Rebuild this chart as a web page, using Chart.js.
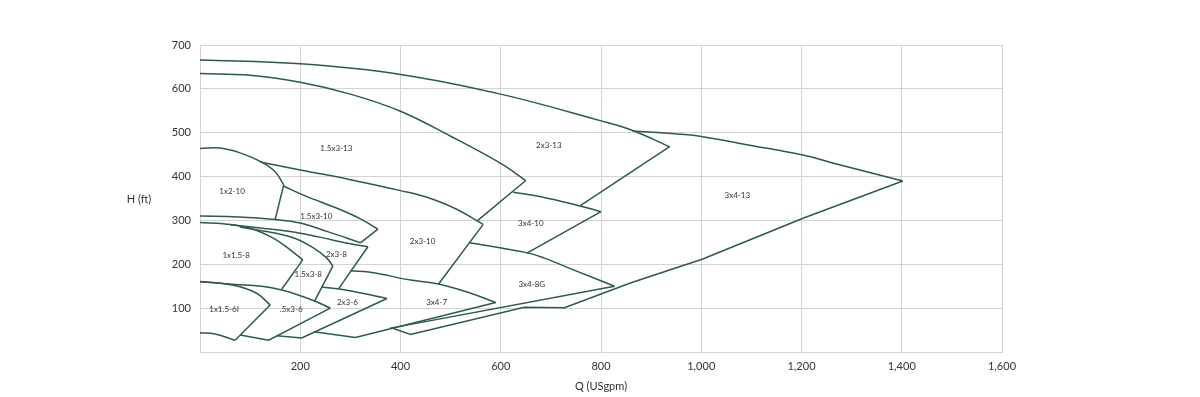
<!DOCTYPE html>
<html>
<head>
<meta charset="utf-8">
<script src="https://cdn.jsdelivr.net/npm/chart.js@4.4.1/dist/chart.umd.min.js"></script>
<style>
  html, body { margin: 0; padding: 0; background: #fff; }
  #wrap { width: 1200px; height: 397px; position: relative; }
</style>
</head>
<body>
<div id="wrap"><canvas id="pumpChart"></canvas></div>
<script>
// Pump selection map - Q (USgpm) vs H (ft)
const xTicks = [0, 200, 400, 600, 800, 1000, 1200, 1400, 1600];
const yTicks = [0, 100, 200, 300, 400, 500, 600, 700];

// max / min impeller curves, [Q, H]
const top2x3_13 = [[0,666],[200,657],[400,633],[600,588],[800,527],[863,505],[937,468]];
const top15x3_13 = [[0,635],[100,631],[200,615],[300,588],[400,549],[500,492],[600,430],[650,391]];
const top3x4_13 = [[863,504],[953,497],[1003,491],[1100,471],[1203,449],[1266,430],[1402,390]];
const top2x3_10 = [[120,433],[200,415],[300,393],[400,368],[460,350],[513,325],[553,299],[565,291]];
const top1x2_10 = [[0,464],[40,465],[80,454],[123,433],[150,411],[167,381]];
const top15x3_10 = [[167,378],[210,356],[277,326],[323,302],[355,280]];
const bot1x2_10 = [[0,310],[77,308],[150,302],[200,294],[253,275],[320,249]];
const top3x4_10 = [[625,364],[680,354],[758,333],[800,320]];
const top1x15_8 = [[0,295],[50,292],[100,282],[147,259],[180,233],[205,210]];
const top15x3_8 = [[80,285],[180,263],[227,237],[253,214],[265,196]];
const top2x3_8 = [[60,290],[120,283],[200,271],[266,255],[300,247],[335,240]];
const top3x4_8G = [[538,249],[653,226],[687,214],[750,185],[827,150]];
const top3x4_7 = [[300,185],[340,182],[420,164],[476,155],[540,134],[590,113]];
const top2x3_6 = [[242,148],[293,141],[373,122]];
const top15x3_6 = [[0,160],[57,155],[150,145],[227,117],[260,100]];
const top1x15_6I = [[0,161],[67,152],[113,134],[140,107]];
const bot1x15_6I = [[0,44],[30,41],[70,27]];

// straight end-of-curve edges
const edge2x3_13 = [[937,468],[758,333]];
const edge15x3_13 = [[650,391],[553,299]];
const edge1x2_10 = [[167,381],[150,302]];
const edge15x3_10 = [[355,280],[320,249]];
const edge3x4_10 = [[800,320],[653,226]];
const edge2x3_10 = [[565,291],[476,155]];
const edge1x15_8 = [[205,210],[163,143]];
const edge15x3_8 = [[265,196],[228,115]];
const edge2x3_8 = [[335,240],[277,145]];
const edge2x3_6 = [[373,122],[203,32],[153,37]];
const edge15x3_6 = [[260,100],[137,27],[80,39]];
const edge1x15_6I = [[140,107],[70,27]];
const edge3x4_7 = [[590,113],[310,33],[227,46]];
const edge3x4_8G = [[827,150],[383,55],[420,40],[647,102],[727,101],[860,158],[1003,212],[1203,305],[1402,390]];

const modelNames = ['1.5x3-13','2x3-13','3x4-13','1x2-10','1.5x3-10','2x3-10','3x4-10','1x1.5-8','2x3-8','1.5x3-8','3x4-8G','3x4-7','2x3-6','.5x3-6','1x1.5-6I'];
const labelQ = [272, 696, 1072, 64, 232, 444, 660, 72, 272, 216, 662, 472, 294, 182, 48];
const labelH = [465, 472, 356, 365, 310, 251, 294, 221, 223, 176, 155, 112, 112, 96, 96];

const lineColor = '#2d5a4b';
const curves = [top2x3_13, top15x3_13, top3x4_13, top2x3_10, top1x2_10, top15x3_10, bot1x2_10,
  top3x4_10, top1x15_8, top15x3_8, top2x3_8, top3x4_8G, top3x4_7, top2x3_6, top15x3_6, top1x15_6I, bot1x15_6I];
const edges = [edge2x3_13, edge15x3_13, edge1x2_10, edge15x3_10, edge3x4_10, edge2x3_10, edge1x15_8,
  edge15x3_8, edge2x3_8, edge2x3_6, edge15x3_6, edge1x15_6I, edge3x4_7, edge3x4_8G];

function toPts(arr) { return arr.map(p => ({ x: p[0], y: p[1] })); }

const datasets = [];
curves.forEach(c => datasets.push({
  data: toPts(c), showLine: true, borderColor: lineColor, borderWidth: 1.5,
  pointRadius: 0, tension: 0.4, fill: false
}));
edges.forEach(e => datasets.push({
  data: toPts(e), showLine: true, borderColor: lineColor, borderWidth: 1.5,
  pointRadius: 0, tension: 0, fill: false
}));

const fontFam = 'Lato, "Noto Sans", sans-serif';

const textPlugin = {
  id: 'pumpText',
  afterDatasetsDraw(chart) {
    const { ctx, scales } = chart;
    ctx.save();
    ctx.fillStyle = '#333';
    ctx.font = '8px ' + fontFam;
    ctx.textAlign = 'center';
    ctx.textBaseline = 'middle';
    modelNames.forEach((n, i) => {
      ctx.fillText(n, scales.x.getPixelForValue(labelQ[i]), scales.y.getPixelForValue(labelH[i]));
    });
    ctx.font = '11px ' + fontFam;
    ctx.fillText('H (ft)', 139, 199);
    ctx.fillText('Q (USgpm)', (chart.chartArea.left + chart.chartArea.right) / 2, 386);
    ctx.restore();
  }
};

Chart.defaults.animation = false;
Chart.defaults.devicePixelRatio = 1;

new Chart(document.getElementById('pumpChart').getContext('2d'), {
  type: 'scatter',
  data: { datasets },
  options: {
    responsive: true,
    maintainAspectRatio: false,
    animation: false,
    layout: { padding: { left: 150, right: 198, top: 45, bottom: 0 } },
    plugins: { legend: { display: false }, tooltip: { enabled: false } },
    scales: {
      x: {
        type: 'linear', min: xTicks[0], max: xTicks[xTicks.length - 1],
        afterBuildTicks: s => { s.ticks = xTicks.map(v => ({ value: v })); },
        afterFit: s => { s.height = 45; },
        grid: { color: '#d4d4d4', drawTicks: false },
        border: { color: '#d4d4d4' },
        ticks: {
          padding: 8, color: '#333', font: { family: fontFam, size: 11 },
          maxRotation: 0,
          callback: v => v === 0 ? '' : v.toLocaleString('en-US')
        }
      },
      y: {
        type: 'linear', min: yTicks[0], max: yTicks[yTicks.length - 1],
        afterBuildTicks: s => { s.ticks = yTicks.map(v => ({ value: v })); },
        afterFit: s => { s.width = 50; },
        grid: { color: '#d4d4d4', drawTicks: false },
        border: { color: '#d4d4d4' },
        ticks: {
          padding: 9, color: '#333', font: { family: fontFam, size: 11 },
          callback: v => v === 0 ? '' : String(v)
        }
      }
    }
  },
  plugins: [textPlugin]
});
</script>
</body>
</html>
